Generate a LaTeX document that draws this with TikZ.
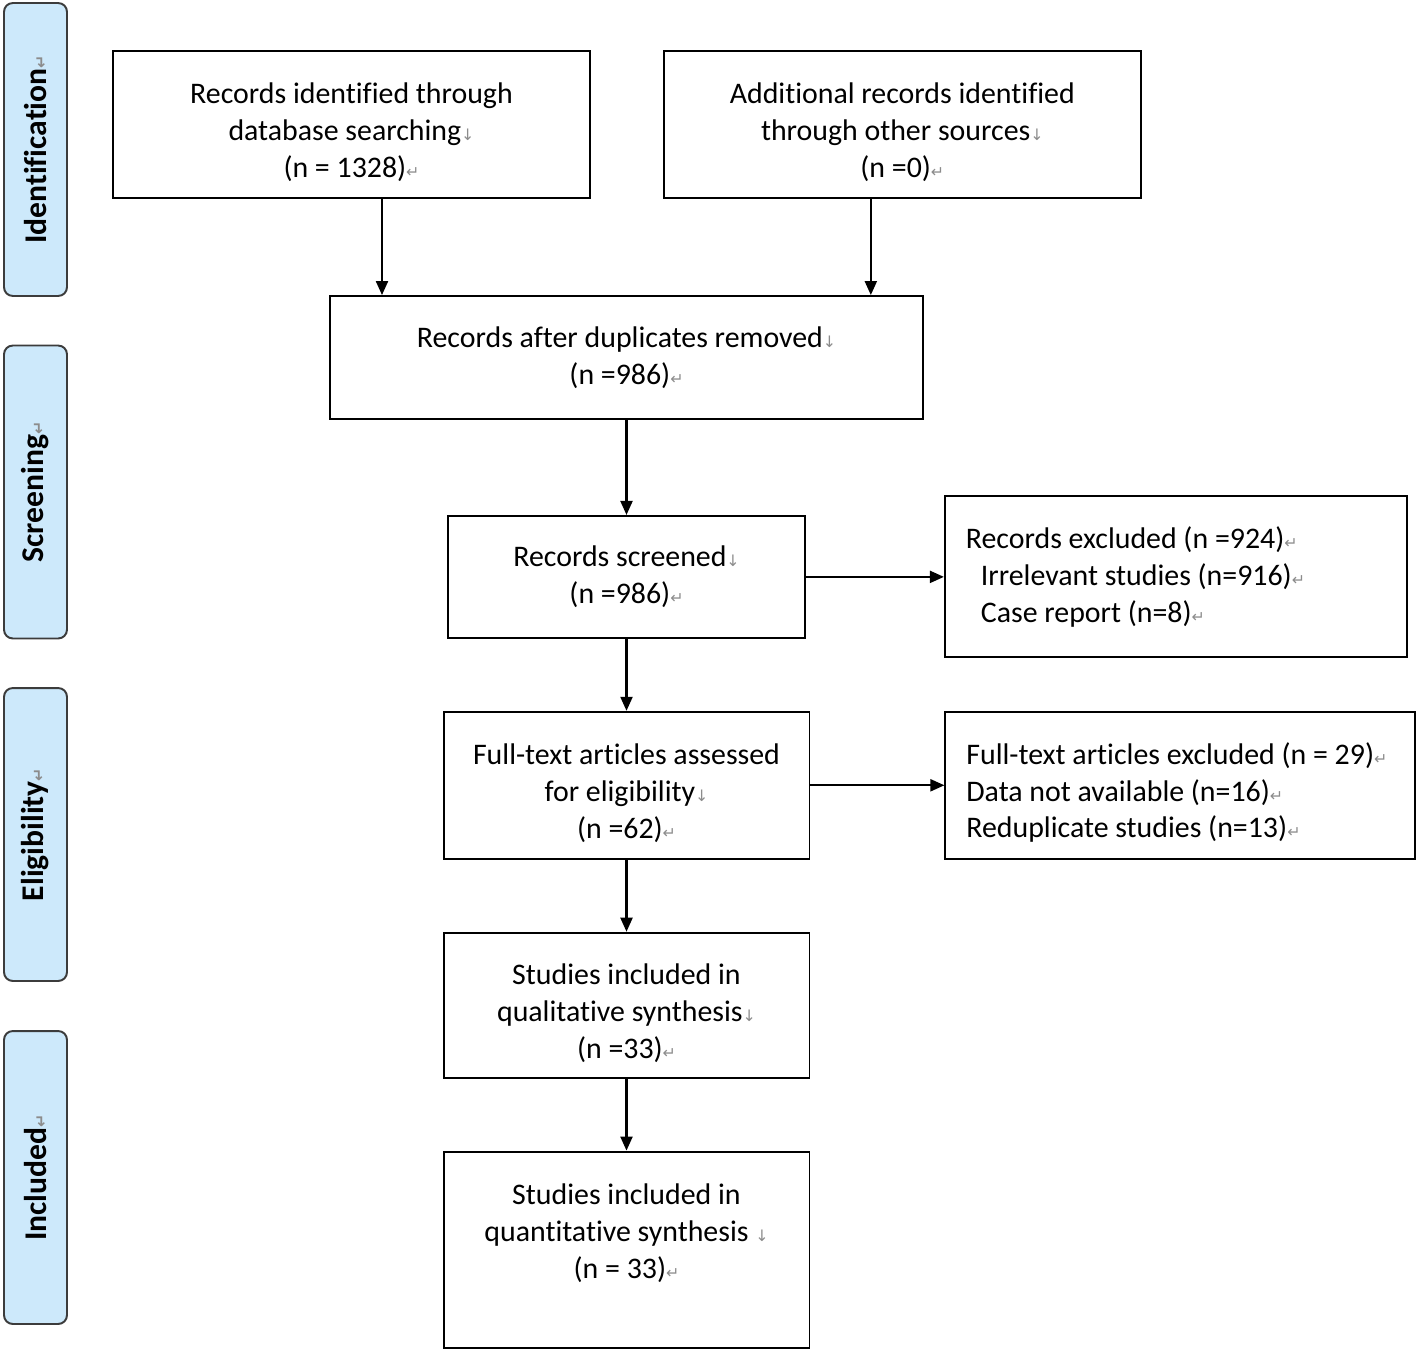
\documentclass[tikz,border=0pt]{standalone}
\usepackage{fontspec}
\setmainfont{Carlito}[Ligatures=NoCommon]
\newfontfamily\marksfont{DejaVu Sans}
\usepackage{xcolor}
\usepackage{tikz}
\usetikzlibrary{arrows.meta, positioning}

\definecolor{stagefill}{RGB}{205,233,251}
\definecolor{stageline}{RGB}{60,60,60}
\definecolor{markgray}{RGB}{140,140,140}

\newcommand{\parmark}{{\marksfont\fontsize{9}{9}\selectfont\color{markgray}↵}}
\newcommand{\brkmark}{{\marksfont\fontsize{9}{9}\selectfont\color{markgray}↓}}

\begin{document}
\begin{tikzpicture}[
    x=0.02cm, y=-0.02cm,
    node distance=1.44cm and 2.76cm,
    % flow boxes - plain black frame
    box/.style={
        rectangle, draw=black, line width=1.1pt,
        align=flush center, font=\fontsize{17}{21}\selectfont,
        inner sep=0pt
    },
    % three lines - text sits a little lower
    lowtext/.style={
        execute at begin node={\rule{0pt}{20.7pt}}
    },
    % exclusion boxes - text on the left
    exbox/.style={
        box, align=flush left, inner xsep=0.42cm
    },
    % stage labels - light blue, turned
    stage/.style={
        rectangle, draw=stageline, fill=stagefill, rounded corners=5pt,
        line width=1.1pt, rotate=90, inner sep=0pt,
        minimum width=5.86cm, minimum height=1.26cm,
        font=\fontsize{18}{18}\selectfont\bfseries
    },
    arrow/.style={-{Triangle[length=0.28cm, width=0.24cm]}, line width=1.2pt},
]
\useasboundingbox (0,0) rectangle (1418,1352);

% Stage labels on the left
\node[stage] (ident) at (35.5,149.5) {Identification\parmark};
\node[stage] (screen) at (35.5,492) {Screening\parmark};
\node[stage] (elig) at (35.5,834.5) {Eligibility\parmark};
\node[stage] (incl) at (35.5,1177.5) {Included\parmark};

% Identification - top row
\node[box, lowtext, text width=9.54cm, minimum height=2.94cm] (dbsearch) at (351.5,124.5)
    {Records identified through\\database searching\brkmark\\(n = 1328)\parmark};
\node[box, lowtext, text width=9.54cm, minimum height=2.94cm, right=1.44cm of dbsearch] (othersrc)
    {Additional records identified\\through other sources\brkmark\\(n =0)\parmark};

% Main column
\node[box, text width=11.86cm, minimum height=2.46cm] (dedup) at (626.5,357.5)
    {Records after duplicates removed\brkmark\\(n =986)\parmark};
\node[box, text width=7.14cm, minimum height=2.44cm, below=1.90cm of dedup] (screened)
    {Records screened\brkmark\\(n =986)\parmark};
\node[box, lowtext, text width=7.32cm, minimum height=2.94cm, below=of screened] (fulltext)
    {Full-text articles assessed\\for eligibility\brkmark\\(n =62)\parmark};
\node[box, lowtext, text width=7.32cm, minimum height=2.90cm, below=of fulltext] (qualit)
    {Studies included in\\qualitative synthesis\brkmark\\(n =33)\parmark};
\node[box, text width=7.32cm, minimum height=3.92cm, below=of qualit] (quantit)
    {Studies included in\\quantitative synthesis \brkmark\\(n = 33)\parmark\\ \mbox{}};

% Exclusion boxes - right column
\node[exbox, text width=8.4cm, minimum height=3.22cm, right=of screened] (excluded)
    {Records excluded (n =924)\parmark\\
     \hspace*{0.3cm}Irrelevant studies (n=916)\parmark\\
     \hspace*{0.3cm}Case report (n=8)\parmark};
\node[exbox, lowtext, text width=8.56cm, minimum height=2.94cm, right=2.68cm of fulltext] (ftexcl)
    {\mbox{Full-text articles excluded (n = 29)\parmark}\\
     Data not available (n=16)\parmark\\
     Reduplicate studies (n=13)\parmark};

% Arrows
\coordinate (dbout) at ([xshift=0.61cm]dbsearch.south);
\coordinate (otherout) at ([xshift=-0.63cm]othersrc.south);
\draw[arrow] (dbout) -- (dbout |- dedup.north);
\draw[arrow] (otherout) -- (otherout |- dedup.north);
\draw[arrow] (dedup) -- (screened);
\draw[arrow] (screened.east) -- (excluded.west);
\draw[arrow] (screened) -- (fulltext);
\draw[arrow] (fulltext) -- (ftexcl);
\draw[arrow] (fulltext) -- (qualit);
\draw[arrow] (qualit) -- (quantit);

\end{tikzpicture}
\end{document}
